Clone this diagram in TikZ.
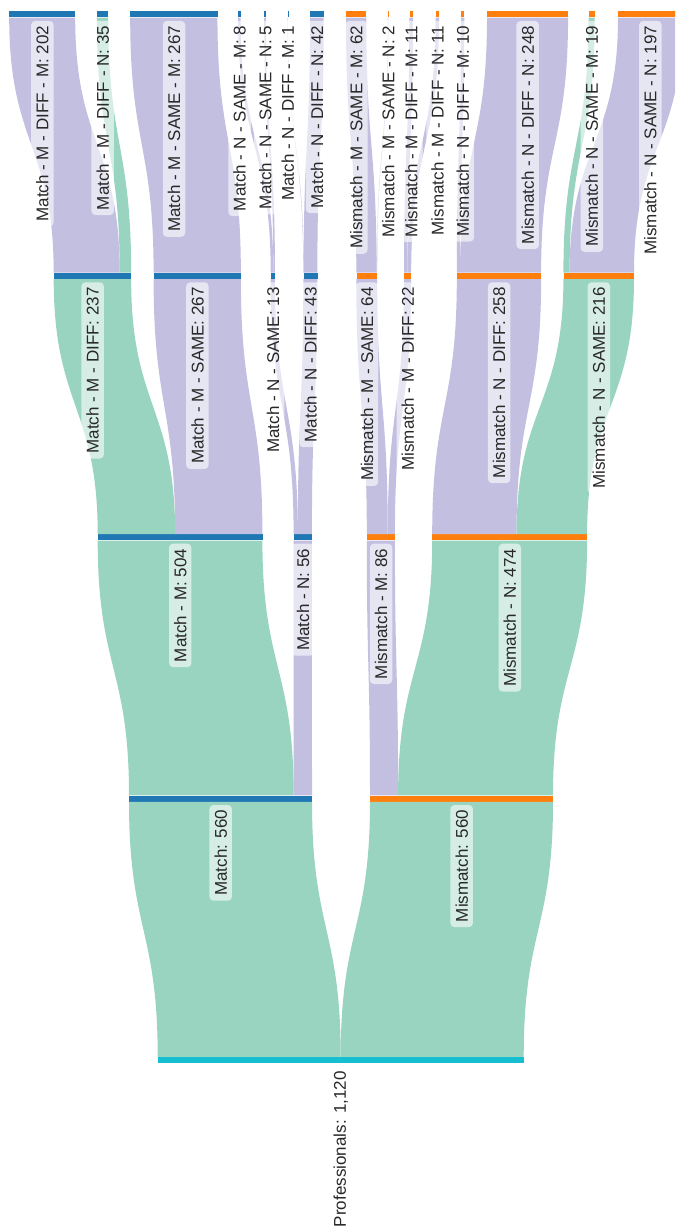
\documentclass[tikz,border=0pt]{standalone}
\usepackage{fontspec}
\setmainfont{Liberation Sans}
\usetikzlibrary{calc}
\definecolor{profcyan}{RGB}{23,190,207}
\definecolor{matchblue}{RGB}{31,119,180}
\definecolor{mismorange}{RGB}{255,127,14}
\definecolor{flowgreen}{RGB}{153,212,193}
\definecolor{flowpurple}{RGB}{194,191,224}
\definecolor{lbltext}{RGB}{40,40,40}
\newcommand{\flowscale}{0.32679}
\tikzset{
  nodebar/.style={rectangle, inner sep=0pt, minimum height=6pt, anchor=west, draw=none},
  profbar/.style={nodebar, fill=profcyan},
  matchbar/.style={nodebar, fill=matchblue},
  mismbar/.style={nodebar, fill=mismorange},
  gflow/.style={fill=flowgreen},
  pflow/.style={fill=flowpurple},
  lbl/.style={rotate=90, anchor=east, fill=white, fill opacity=0.6, text opacity=1,
    rounded corners=4pt, inner xsep=5pt, inner ysep=5pt, text=lbltext,
    font=\fontsize{17}{20}\selectfont}
}
% band from part of a source bar to part of a target bar
\newcommand{\flow}[6]{%
  \path (#1.north west) ++(#2*\flowscale,0) coordinate (s0) ++(#5*\flowscale,0) coordinate (s1);
  \path (#3.south west) ++(#4*\flowscale,0) coordinate (t0) ++(#5*\flowscale,0) coordinate (t1);
  \path ($(s0)!0.5!(t0)$) coordinate (m);
  \fill[#6] (s0) .. controls (s0 |- m) and (t0 |- m) .. (t0)
    -- (t1) .. controls (t1 |- m) and (s1 |- m) .. (s1) -- cycle;
}
\begin{document}
\begin{tikzpicture}[x=1pt, y=-1pt]
  \useasboundingbox (0,0) rectangle (675,1228);
  \clip (0,0) rectangle (675,1228);

  % Bars: name / left x / y / value / style / label
  \foreach \n/\x/\y/\v/\c/\t in {
    prof/157.7/1060/1120/profbar/{Professionals: 1,120},
    match/129/798.6/560/matchbar/{Match: 560},
    mism/370/798.6/560/mismbar/{Mismatch: 560},
    mM/97.7/537.3/504/matchbar/{Match - M: 504},
    mN/293.6/537.3/56/matchbar/{Match - N: 56},
    xM/366.8/537.3/86/mismbar/{Mismatch - M: 86},
    xN/432.2/537.3/474/mismbar/{Mismatch - N: 474},
    mMD/53.7/275.9/237/matchbar/{Match - M - DIFF: 237},
    mMS/153.6/275.9/267/matchbar/{Match - M - SAME: 267},
    mNS/270.7/275.9/13/matchbar/{Match - N - SAME: 13},
    mND/303.3/275.9/43/matchbar/{Match - N - DIFF: 43},
    xMS/356.3/275.9/64/mismbar/{Mismatch - M - SAME: 64},
    xMD/404/275.9/22/mismbar/{Mismatch - M - DIFF: 22},
    xND/456.8/275.9/258/mismbar/{Mismatch - N - DIFF: 258},
    xNS/563.4/275.9/216/mismbar/{Mismatch - N - SAME: 216},
    mMDM/9.2/14.5/202/matchbar/{Match - M - DIFF - M: 202},
    mMDN/96.8/14.5/35/matchbar/{Match - M - DIFF - N: 35},
    mMSM/130.2/14.5/267/matchbar/{Match - M - SAME - M: 267},
    mNSM/238/14.5/8/matchbar/{Match - N - SAME - M: 8},
    mNSN/264.2/14.5/5/matchbar/{Match - N - SAME - N: 5},
    mNDM/287.5/14.5/1/matchbar/{Match - N - DIFF - M: 1},
    mNDN/310/14.5/42/matchbar/{Match - N - DIFF - N: 42},
    xMSM/346/14.5/62/mismbar/{Mismatch - M - SAME - M: 62},
    xMSN/387.8/14.5/2/mismbar/{Mismatch - M - SAME - N: 2},
    xMDM/409.3/14.5/11/mismbar/{Mismatch - M - DIFF - M: 11},
    xMDN/435.5/14.5/11/mismbar/{Mismatch - M - DIFF - N: 11},
    xNDM/461/14.5/10/mismbar/{Mismatch - N - DIFF - M: 10},
    xNDN/487/14.5/248/mismbar/{Mismatch - N - DIFF - N: 248},
    xNSM/588.5/14.5/19/mismbar/{Mismatch - N - SAME - M: 19},
    xNSN/618/14.5/197/mismbar/{Mismatch - N - SAME - N: 197}}
    \node[\c, minimum width={\v*\flowscale*1pt}] (\n) at (\x,\y) {};

  % Flows: source / offset / target / offset / value / style
  \foreach \s/\a/\g/\b/\v/\c in {
    prof/0/match/0/560/gflow, prof/560/mism/0/560/gflow,
    match/0/mM/0/504/gflow, match/504/mN/0/56/pflow,
    mism/0/xM/0/86/pflow, mism/86/xN/0/474/gflow,
    mM/0/mMD/0/237/gflow, mM/237/mMS/0/267/pflow,
    mN/0/mNS/0/13/pflow, mN/13/mND/0/43/pflow,
    xM/0/xMS/0/64/pflow, xM/64/xMD/0/22/pflow,
    xN/0/xND/0/258/pflow, xN/258/xNS/0/216/gflow,
    mMD/0/mMDM/0/202/pflow, mMD/202/mMDN/0/35/gflow,
    mMS/0/mMSM/0/267/pflow,
    mNS/0/mNSM/0/8/pflow, mNS/8/mNSN/0/5/pflow,
    mND/0/mNDM/0/1/pflow, mND/1/mNDN/0/42/pflow,
    xMS/0/xMSM/0/62/pflow, xMS/62/xMSN/0/2/pflow,
    xMD/0/xMDM/0/11/pflow, xMD/11/xMDN/0/11/pflow,
    xND/0/xNDM/0/10/pflow, xND/10/xNDN/0/248/pflow,
    xNS/0/xNSM/0/19/gflow, xNS/19/xNSN/0/197/pflow}
    \flow{\s}{\a}{\g}{\b}{\v}{\c};

  % Labels
  \foreach \n/\t in {
    prof/{Professionals: 1,120}, match/{Match: 560}, mism/{Mismatch: 560},
    mM/{Match - M: 504}, mN/{Match - N: 56}, xM/{Mismatch - M: 86}, xN/{Mismatch - N: 474},
    mMD/{Match - M - DIFF: 237}, mMS/{Match - M - SAME: 267},
    mNS/{Match - N - SAME: 13}, mND/{Match - N - DIFF: 43},
    xMS/{Mismatch - M - SAME: 64}, xMD/{Mismatch - M - DIFF: 22},
    xND/{Mismatch - N - DIFF: 258}, xNS/{Mismatch - N - SAME: 216},
    mMDM/{Match - M - DIFF - M: 202}, mMDN/{Match - M - DIFF - N: 35},
    mMSM/{Match - M - SAME - M: 267}, mNSM/{Match - N - SAME - M: 8},
    mNSN/{Match - N - SAME - N: 5}, mNDM/{Match - N - DIFF - M: 1},
    mNDN/{Match - N - DIFF - N: 42}, xMSM/{Mismatch - M - SAME - M: 62},
    xMSN/{Mismatch - M - SAME - N: 2}, xMDM/{Mismatch - M - DIFF - M: 11},
    xMDN/{Mismatch - M - DIFF - N: 11}, xNDM/{Mismatch - N - DIFF - M: 10},
    xNDN/{Mismatch - N - DIFF - N: 248}, xNSM/{Mismatch - N - SAME - M: 19},
    xNSN/{Mismatch - N - SAME - N: 197}}
    \node[lbl] (\n-lbl) at ([yshift=-3pt]\n.south) {\t};
\end{tikzpicture}
\end{document}
